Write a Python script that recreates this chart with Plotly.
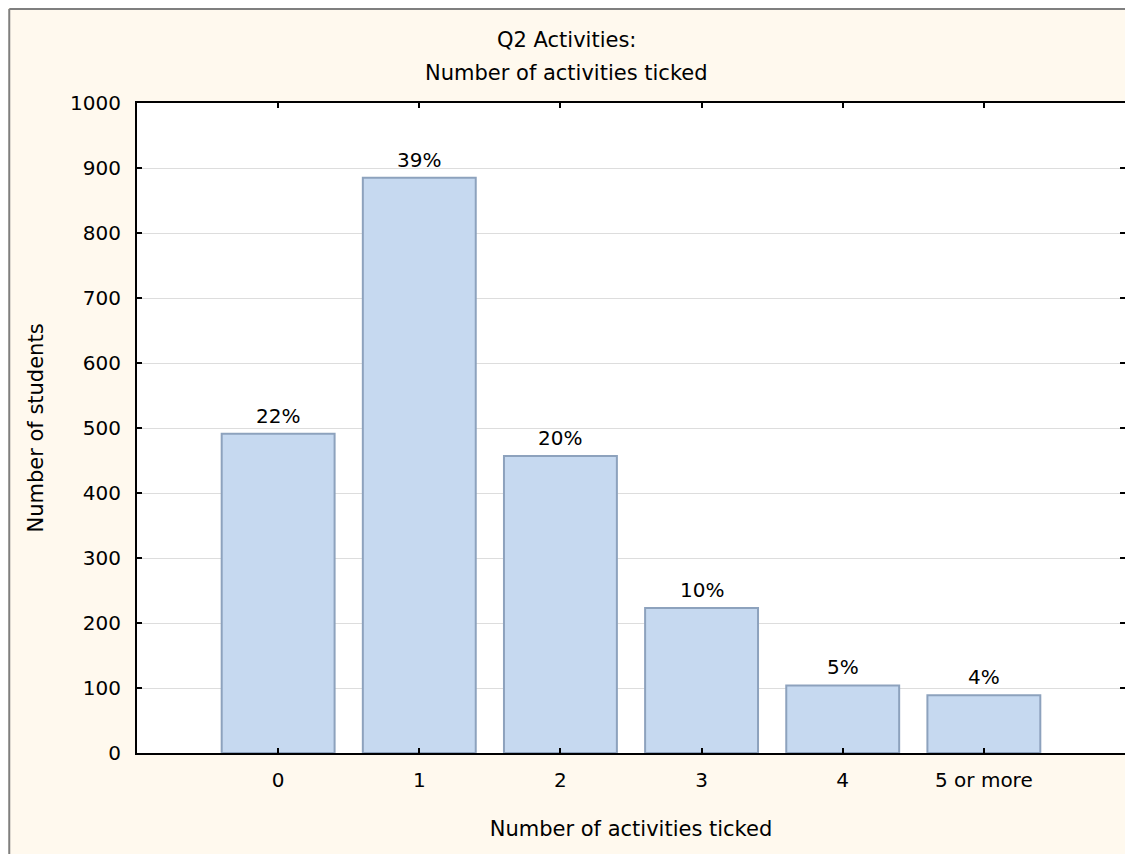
import plotly.graph_objects as go

categories = ["0", "1", "2", "3", "4", "5 or more"]
students = [491, 885, 457, 223, 104, 89]
pct_labels = ["22%", "39%", "20%", "10%", "5%", "4%"]
y_ticks = [0, 100, 200, 300, 400, 500, 600, 700, 800, 900, 1000]

FONT = "DejaVu Sans"
FS = 20
FT = 21
OFF = 8  # page body margin offset
W, H = 1133 - OFF, 854 - OFF
L, T = 137 - OFF, 103 - OFF
R = W - (1127 - OFF)
B = H - (753 - OFF)
pw, ph = W - L - R, H - T - B

fig = go.Figure(go.Bar(
    x=categories, y=students, width=0.8,
    marker=dict(color="#C6D9F0", line=dict(color="#8DA2BD", width=2)),
    hoverinfo="skip",
))

for c, v, t in zip(categories, students, pct_labels):
    fig.add_annotation(x=c, y=v, text=t, showarrow=False, yanchor="bottom",
                       yshift=4, font=dict(family=FONT, size=FS, color="#000000"))

fig.update_layout(
    width=W, height=H,
    margin=dict(l=L, r=R, t=T, b=B, pad=0),
    paper_bgcolor="#FFF9EE", plot_bgcolor="#FFFFFF",
    font=dict(family=FONT, size=FS, color="#000000"),
    showlegend=False,
    bargap=0.2,
)
fig.update_xaxes(
    type="category", range=[-1, 6],
    showline=True, linecolor="#000000", linewidth=2, mirror="ticks",
    ticks="inside", ticklen=5, tickwidth=2, tickcolor="#000000",
    showgrid=False, ticklabelstandoff=8,
    tickfont=dict(family=FONT, size=FS),
    title=dict(text="Number of activities ticked", standoff=30,
               font=dict(family=FONT, size=FT)),
)
fig.update_yaxes(
    range=[0, 1000], tickvals=y_ticks,
    showline=True, linecolor="#000000", linewidth=2, mirror="ticks",
    ticks="inside", ticklen=5, tickwidth=2, tickcolor="#000000",
    showgrid=True, gridcolor="#DDDDDD", gridwidth=1, zeroline=False,
    ticklabelstandoff=10,
    tickfont=dict(family=FONT, size=FS),
    title=dict(text="Number of students", standoff=21,
               font=dict(family=FONT, size=FT)),
)

def px_x(x):
    return (x - OFF - L) / pw

def px_y(y):
    return (H - B - (y - OFF)) / ph

fig.add_annotation(text="Q2 Activities:", xref="paper", yref="paper",
                   x=px_x(567), y=px_y(40), showarrow=False,
                   xanchor="center", yanchor="middle", font=dict(family=FONT, size=FT))
fig.add_annotation(text="Number of activities ticked", xref="paper", yref="paper",
                   x=px_x(567), y=px_y(73), showarrow=False,
                   xanchor="center", yanchor="middle", font=dict(family=FONT, size=FT))

# outer frame (top and left edges visible)
fig.add_shape(type="line", xref="paper", yref="paper",
              x0=px_x(9), x1=px_x(1200), y0=px_y(9), y1=px_y(9),
              line=dict(color="#7F7F7F", width=2))
fig.add_shape(type="line", xref="paper", yref="paper",
              x0=px_x(9), x1=px_x(9), y0=px_y(9), y1=px_y(900),
              line=dict(color="#7F7F7F", width=2))

fig.write_html("out.html")
